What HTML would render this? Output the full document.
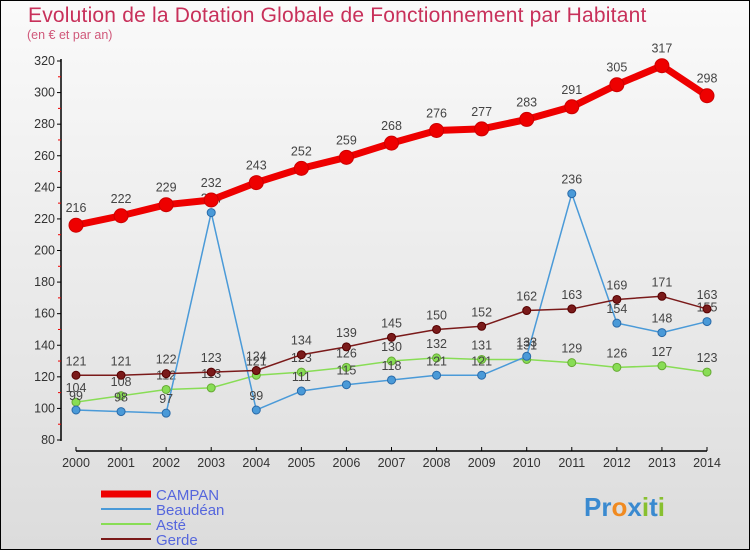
<!DOCTYPE html>
<html><head><meta charset="utf-8"><style>
body{margin:0}
#wrap{position:relative;width:748px;height:548px;border:1px solid #000;background:linear-gradient(#fafafa,#dcdcdc);overflow:hidden;font-family:"Liberation Sans",sans-serif}
#title{position:absolute;left:27px;top:3px;font-size:21px;color:#c8305a;letter-spacing:0.2px}
#sub{position:absolute;left:26px;top:27px;font-size:12.5px;color:#d0587a}
svg{position:absolute;left:0;top:0}
</style></head><body>
<div id="wrap">
<div id="title">Evolution de la Dotation Globale de Fonctionnement par Habitant</div>
<div id="sub">(en € et par an)</div>
<svg id="svg" width="750" height="550"></svg>
</div>
<script>
const years=[2000,2001,2002,2003,2004,2005,2006,2007,2008,2009,2010,2011,2012,2013,2014];
const yTicks=[80,100,120,140,160,180,200,220,240,260,280,300,320];
const campan=[216,222,229,232,243,252,259,268,276,277,283,291,305,317,298];
const beaudean=[99,98,97,224,99,111,115,118,121,121,133,236,154,148,155];
const aste=[104,108,112,113,121,123,126,130,132,131,131,129,126,127,123];
const gerde=[121,121,122,123,124,134,139,145,150,152,162,163,169,171,163];
const svg=document.getElementById('svg');const NS='http://www.w3.org/2000/svg';
const xs=i=>75+i*(706-75)/(years.length-1);
const ys=v=>439-(v-80)*(439-60)/240;
function mk(t,a,p){const e=document.createElementNS(NS,t);for(const k in a)e.setAttribute(k,a[k]);(p||svg).appendChild(e);return e;}
let ax=mk('line',{x1:60,y1:58,x2:60,y2:440,stroke:'#000','stroke-width':1.5});


let bx=mk('line',{x1:75,y1:450,x2:706,y2:450,stroke:'#000','stroke-width':1.5});


yTicks.forEach((v,i)=>{
  mk('line',{x1:56,x2:60,y1:ys(v),y2:ys(v),stroke:'#000'});
  if(i<yTicks.length-1)mk('line',{x1:57,x2:60,y1:ys(v+10),y2:ys(v+10),stroke:'#e00'});
  const t=mk('text',{x:54,y:ys(v)+4,'text-anchor':'end','font-size':12.5,fill:'#333'});t.textContent=v;
  
  
});
years.forEach((y,i)=>{
  mk('line',{x1:xs(i),x2:xs(i),y1:446,y2:450,stroke:'#000'});
  const t=mk('text',{x:xs(i),y:466,'text-anchor':'middle','font-size':12.5,fill:'#333'});t.textContent=y;
  
  
});
function series(d,color,w,r,name,dark){
  const pts=d.map((v,i)=>xs(i)+','+ys(v)).join(' ');
  const l=mk('polyline',{points:pts,fill:'none',stroke:color,'stroke-width':w,'stroke-linejoin':'round'});
  
  
  d.forEach((v,i)=>{
    const c=mk('circle',{cx:xs(i),cy:ys(v),r:r,fill:color,stroke:dark,'stroke-width':1});
    
    
    const t=mk('text',{x:xs(i),y:ys(v)-r-6,'text-anchor':'middle','font-size':12.5,fill:'#444'});t.textContent=v;
    
    
  });
}
series(aste,'#88dd55',1.5,4,'aste','#66aa33');
series(beaudean,'#4a9ad8',1.5,4,'beaudean','#2a6aa8');
series(gerde,'#7a1a1a',1.5,4,'gerde','#500');
series(campan,'#ee0000',7,7,'campan','#c00');
const leg=[['CAMPAN','#ee0000',7],['Beaudéan','#4a9ad8',2],['Asté','#88dd55',2],['Gerde','#7a1a1a',2]];
leg.forEach((g,i)=>{
  const y=493+i*15;
  const l=mk('line',{x1:100,x2:150,y1:y,y2:y,stroke:g[1],'stroke-width':g[2]});
  
  
  const t=mk('text',{x:155,y:y+6,'font-size':15,fill:'#5566dd'});t.textContent=g[0];
  
  
});
const lg=mk('text',{x:583,y:515,'font-size':26,'font-weight':'bold',fill:'#3a9ad8'});


lg.innerHTML='<tspan fill="#3a8ad0">Pr</tspan><tspan fill="#f08a20">o</tspan><tspan fill="#3a8ad0">x</tspan><tspan fill="#88c030">i</tspan><tspan fill="#3a8ad0">t</tspan><tspan fill="#88c030">i</tspan>';
</script>
</body></html>
